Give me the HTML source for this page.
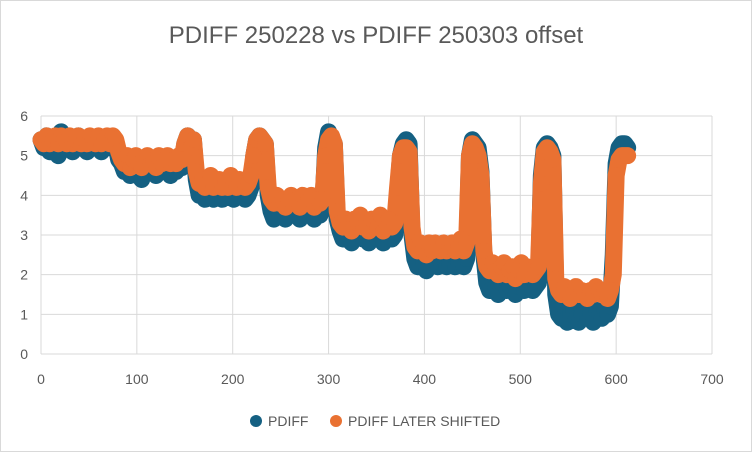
<!DOCTYPE html>
<html><head><meta charset="utf-8"><style>
body{margin:0;background:#fff}
svg{display:block;font-family:"Liberation Sans",sans-serif}
</style></head><body>
<svg id="chart" width="752" height="452">
<rect x="0.5" y="0.5" width="751" height="451" fill="#fff" stroke="#d9d9d9"/>
<text x="376" y="43" text-anchor="middle" font-size="24" fill="#595959">PDIFF 250228 vs PDIFF 250303 offset</text>
<g id="grid"></g><g id="series"></g><g id="labels"></g>
<g>
<circle cx="256" cy="421" r="6" fill="#156082"/>
<text x="268" y="426" font-size="14" fill="#595959">PDIFF</text>
<circle cx="336" cy="421" r="6" fill="#E97132"/>
<text x="348" y="426" font-size="14" fill="#595959">PDIFF LATER SHIFTED</text>
</g>
</svg>
<script>
const xTicks=[0,100,200,300,400,500,600,700];
const yTicks=[0,1,2,3,4,5,6];
const xStep=3;
const pdiff=[5.4,5.2,5.5,5.1,5.3,5.4,5.0,5.6,5.2,5.3,5.4,5.1,5.3,5.5,5.2,5.3,5.1,5.4,5.3,5.2,5.4,5.1,5.3,5.4,5.2,5.4,5.3,
4.9,4.8,4.6,4.9,4.5,4.7,4.8,4.5,4.4,4.7,4.9,4.6,4.7,4.5,4.8,4.6,4.7,4.9,4.5,4.7,4.6,4.8,4.7,
5.3,5.5,5.0,5.4,
4.4,4.0,4.2,3.9,4.1,4.3,3.9,4.0,4.2,3.9,4.1,4.0,4.3,3.9,4.0,4.2,4.1,3.9,4.0,4.2,
5.0,5.4,5.5,5.4,5.3,
4.0,3.6,3.4,3.8,3.5,3.7,3.4,3.6,3.8,3.5,3.6,3.4,3.7,3.5,3.6,3.8,3.4,3.6,3.5,3.7,
5.2,5.6,5.4,5.3,
3.4,3.1,2.9,3.2,3.0,2.8,3.1,3.0,3.2,2.9,3.0,2.8,3.1,3.0,2.9,3.2,2.8,3.0,3.1,2.9,3.0,
4.0,5.0,5.3,5.4,5.3,
3.0,2.4,2.2,2.5,2.3,2.1,2.4,2.3,2.5,2.2,2.3,2.4,2.2,2.3,2.5,2.2,2.3,2.4,2.2,2.4,
5.0,5.4,5.3,5.2,4.6,
2.5,1.8,1.6,1.9,1.7,1.5,1.8,1.9,1.6,1.7,1.8,1.5,1.7,1.9,1.6,1.7,1.8,1.6,1.7,1.8,
4.5,5.2,5.3,5.2,5.0,
1.5,1.0,0.9,1.2,0.8,1.0,1.1,0.9,0.8,1.0,1.2,0.9,1.0,0.8,1.1,1.0,0.9,1.1,1.0,1.2,
2.5,4.8,5.2,5.3,5.3,5.2];
const shifted=[5.4,5.3,5.5,5.3,5.4,5.5,5.3,5.5,5.4,5.3,5.5,5.3,5.4,5.5,5.3,5.4,5.3,5.5,5.4,5.3,5.5,5.3,5.4,5.5,5.3,5.5,5.4,
5.1,4.9,4.8,5.0,4.7,4.9,5.0,4.8,4.7,4.9,5.0,4.8,4.9,4.7,5.0,4.8,4.9,5.0,4.8,4.9,4.8,5.0,4.9,
5.3,5.5,5.2,5.4,
4.6,4.3,4.4,4.2,4.3,4.5,4.2,4.3,4.4,4.2,4.3,4.2,4.5,4.3,4.2,4.4,4.3,4.2,4.3,4.5,
5.0,5.4,5.5,5.4,5.3,
4.2,3.9,3.8,4.0,3.8,3.9,3.7,3.9,4.0,3.8,3.9,3.7,4.0,3.8,3.9,4.0,3.7,3.9,3.8,3.9,
5.0,5.4,5.5,5.3,
3.6,3.3,3.2,3.4,3.3,3.1,3.4,3.3,3.5,3.2,3.3,3.1,3.4,3.3,3.2,3.5,3.1,3.3,3.4,3.2,3.3,
4.2,5.0,5.2,5.2,5.1,
3.2,2.7,2.6,2.8,2.7,2.5,2.8,2.6,2.8,2.7,2.6,2.8,2.6,2.7,2.8,2.6,2.7,2.9,2.6,2.8,
5.0,5.3,5.2,5.0,4.5,
2.6,2.2,2.1,2.3,2.1,2.0,2.2,2.3,2.0,2.1,2.2,1.9,2.1,2.3,2.0,2.2,2.1,2.0,2.1,2.2,
4.3,5.1,5.2,5.1,4.9,
1.9,1.6,1.5,1.7,1.5,1.4,1.6,1.7,1.5,1.6,1.5,1.4,1.6,1.5,1.7,1.6,1.5,1.6,1.4,1.6,
2.0,4.5,4.9,5.0,5.0,5.0];

const NS='http://www.w3.org/2000/svg';
const L=41,R=712,T=116,B=354;
function sx(v){return L+(v/700)*(R-L);}
function sy(v){return B-(v/6)*(B-T);}
function mk(tag,attrs,parent){const e=document.createElementNS(NS,tag);for(const k in attrs)e.setAttribute(k,attrs[k]);parent.appendChild(e);return e;}
const grid=document.getElementById('grid'),labels=document.getElementById('labels'),ser=document.getElementById('series');
xTicks.forEach(t=>{
  const l=mk('line',{x1:sx(t),x2:sx(t),y1:T,y2:B,stroke:'#d9d9d9','stroke-width':1},grid);
  
  
  const tx=mk('text',{x:sx(t),y:B+30,'text-anchor':'middle','font-size':14,fill:'#595959'},labels);
  tx.textContent=t;
  
  
});
yTicks.forEach(t=>{
  const l=mk('line',{x1:L,x2:R,y1:sy(t),y2:sy(t),stroke:'#d9d9d9','stroke-width':1},grid);
  
  
  const tx=mk('text',{x:L-13,y:sy(t)+5,'text-anchor':'end','font-size':14,fill:'#595959'},labels);
  tx.textContent=t;
  
  
});
function drawSeries(vals,color,name){
  const g=mk('g',{},ser);
  
  
  const pts=vals.map((v,i)=>sx(i*xStep)+','+sy(v)).join(' ');
  const pl=mk('polyline',{points:pts,fill:'none',stroke:color,'stroke-width':17,'stroke-linejoin':'round','stroke-linecap':'round'},g);
  
  
  vals.forEach((v,i)=>{
    const c=mk('circle',{cx:sx(i*xStep),cy:sy(v),r:8,fill:color},g);
    
    
  });
}
drawSeries(pdiff,'#156082','pdiff-series');
drawSeries(shifted,'#E97132','pdiff-later-shifted-series');
</script>
</body></html>
